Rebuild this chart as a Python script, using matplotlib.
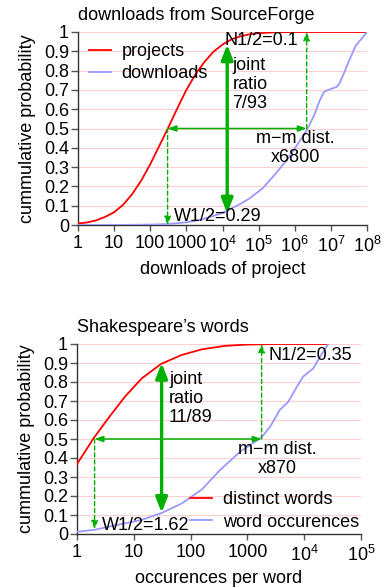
import matplotlib
matplotlib.use("Agg")
import matplotlib.pyplot as plt
from matplotlib.ticker import FixedLocator, NullLocator

plt.rcParams['font.family'] = ['Liberation Sans', 'DejaVu Sans']
plt.rcParams['mathtext.fontset'] = 'custom'
plt.rcParams['mathtext.rm'] = 'Liberation Sans'
plt.rcParams['mathtext.it'] = 'Liberation Sans:italic'
plt.rcParams['mathtext.bf'] = 'Liberation Sans:bold'

# ---- top panel data (log10 of downloads) ----
sf_proj_logx = [0, 0.25, 0.5, 0.75, 1.0, 1.25, 1.5, 1.75, 2.0, 2.25, 2.5, 2.75, 3.0, 3.25, 3.5,
                3.75, 4.0, 4.25, 4.5, 4.75, 5.0, 5.5, 6.0, 7.0, 8.0]
sf_proj_y = [0.008, 0.013, 0.024, 0.042, 0.066, 0.105, 0.16, 0.23, 0.315, 0.41, 0.505, 0.605, 0.70,
             0.78, 0.845, 0.898, 0.935, 0.962, 0.978, 0.988, 0.994, 0.999, 1.0, 1.0, 1.0]
sf_dl_logx = [0, 1.0, 2.0, 2.5, 3.0, 3.25, 3.5, 3.75, 4.0, 4.19, 4.5, 4.75, 5.11, 5.48, 5.85, 6.12,
              6.33, 6.54, 6.68, 6.81, 7.0, 7.15, 7.23, 7.37, 7.5, 7.69, 7.85, 8.0]
sf_dl_y = [0.0, 0.0, 0.002, 0.005, 0.014, 0.022, 0.033, 0.047, 0.063, 0.08, 0.11, 0.138, 0.19, 0.268,
           0.354, 0.43, 0.49, 0.57, 0.64, 0.69, 0.705, 0.715, 0.73, 0.79, 0.85, 0.93, 0.965, 1.0]
sf_xticks = [1, 10, 100, 1000, 1e4, 1e5, 1e6, 1e7, 1e8]
sf_xticklabels = ['1', '10', '100', '1000', '10$^4$', '10$^5$', '10$^6$', '10$^7$', '10$^8$']
sf_joint_logx, sf_joint_y = 4.13, (0.935, 0.06)
sf_med_proj, sf_med_dl = 2.48, 6.33

# ---- bottom panel data (log10 of occurences) ----
sh_words_logx = [0, 0.29, 0.55, 0.845, 1.14, 1.48, 1.84, 2.2, 2.6, 3.0, 3.5, 4.0, 4.42]
sh_words_y = [0.368, 0.503, 0.609, 0.723, 0.819, 0.895, 0.942, 0.972, 0.99, 0.997, 1.0, 1.0, 1.0]
sh_occ_logx = [0, 0.31, 0.55, 1.14, 1.5, 1.84, 2.2, 2.52, 2.87, 3.25, 3.4, 3.57, 3.72, 3.87, 3.98,
               4.16, 4.28, 4.42]
sh_occ_y = [0.012, 0.022, 0.038, 0.074, 0.112, 0.16, 0.235, 0.337, 0.433, 0.509, 0.565, 0.653, 0.696,
            0.775, 0.828, 0.872, 0.933, 1.0]
sh_xticks = [1, 10, 100, 1000, 1e4, 1e5]
sh_xticklabels = ['1', '10', '100', '1000', '10$^4$', '10$^5$']
sh_joint_logx, sh_joint_y = 1.49, (0.9, 0.112)
sh_med_words, sh_med_occ = 0.31, 3.25

yticks = [0, 0.1, 0.2, 0.3, 0.4, 0.5, 0.6, 0.7, 0.8, 0.9, 1]
yticklabels = ['0', '0.1', '0.2', '0.3', '0.4', '0.5', '0.6', '0.7', '0.8', '0.9', '1']

GREEN = '#00b000'
RED = '#ff0000'
BLUE = '#9999ff'
FS = 13

fig = plt.figure(figsize=(3.84, 5.88), dpi=100)
W, H = 384, 588
ax1 = fig.add_axes([78 / W, 1 - 225 / H, (367 - 78) / W, (225 - 32) / H])
ax2 = fig.add_axes([77 / W, 1 - 534 / H, (361 - 77) / W, (534 - 344) / H])


def style(ax, xmax, xticks, xlabels):
    ax.set_xscale('log')
    ax.set_xlim(1, xmax)
    ax.set_ylim(0, 1)
    ax.xaxis.set_major_locator(FixedLocator(xticks))
    ax.xaxis.set_minor_locator(NullLocator())
    ax.set_xticks(xticks)
    ax.set_xticklabels(xlabels, fontsize=FS)
    ax.set_yticks(yticks)
    ax.set_yticklabels(yticklabels, fontsize=FS)
    for s in ['top', 'right']:
        ax.spines[s].set_visible(False)
    for s in ['left', 'bottom']:
        ax.spines[s].set_color('#333333')
        ax.spines[s].set_linewidth(1.0)
    ax.tick_params(axis='y', direction='out', length=5, width=1, color='#555555', pad=1.5)
    ax.tick_params(axis='x', direction='out', length=4.5, width=1, color='#555555', pad=3)
    for y in yticks[1:]:
        ax.axhline(y, color='#ffd0d0', lw=0.8, zorder=0)
    ax.set_ylabel('cummulative probability', fontsize=FS, labelpad=6)


def arrows(ax, xj, yj, xm1, xm2, xd_down, yd_down, xd_up):
    ax.annotate('', xy=(xj, yj[1]), xytext=(xj, yj[0]),
                arrowprops=dict(arrowstyle='<|-|>,head_length=0.9,head_width=0.35', color=GREEN, lw=2.4,
                                shrinkA=0, shrinkB=0))
    ax.annotate('', xy=(xm2, 0.5), xytext=(xm1, 0.5),
                arrowprops=dict(arrowstyle='<|-|>,head_length=0.5,head_width=0.18', color=GREEN, lw=1.1,
                                shrinkA=0, shrinkB=0))
    ax.annotate('', xy=(xd_down, yd_down), xytext=(xd_down, 0.5),
                arrowprops=dict(arrowstyle='-|>,head_length=0.5,head_width=0.2', color=GREEN, lw=1.0,
                                ls=(0, (3, 2)), shrinkA=0, shrinkB=0))
    ax.annotate('', xy=(xd_up, 1.0), xytext=(xd_up, 0.5),
                arrowprops=dict(arrowstyle='-|>,head_length=0.5,head_width=0.2', color=GREEN, lw=1.0,
                                ls=(0, (3, 2)), shrinkA=0, shrinkB=0))


# ---------- top ----------
ax1.plot([10 ** v for v in sf_proj_logx], sf_proj_y, color=RED, lw=1.3, label='projects', zorder=3)
ax1.plot([10 ** v for v in sf_dl_logx], sf_dl_y, color=BLUE, lw=1.3, label='downloads', zorder=3)
style(ax1, 1e8, sf_xticks, sf_xticklabels)
ax1.set_xlabel('downloads of project', fontsize=FS, labelpad=4)
ax1.set_title('downloads from SourceForge', fontsize=FS, loc='left', pad=9)
arrows(ax1, 10 ** sf_joint_logx, sf_joint_y, 10 ** sf_med_proj, 10 ** sf_med_dl,
       10 ** sf_med_proj, 0.0, 10 ** sf_med_dl)
ax1.text(10 ** 4.05, 0.955, 'N1/2=0.1', fontsize=FS, va='center', ha='left', zorder=5)
ax1.text(10 ** 4.28, 0.87, 'joint\nratio\n7/93', fontsize=FS, va='top', ha='left', linespacing=1.15)
ax1.text(10 ** 6.01, 0.40, 'm\u2212m dist.\nx6800', fontsize=FS, va='center', ha='center', linespacing=1.15)
ax1.text(10 ** 2.66, 0.043, 'W1/2=0.29', fontsize=FS, va='center', ha='left')
ax1.legend(loc='upper left', frameon=False, fontsize=FS, handlelength=1.2, borderaxespad=0.2,
           handletextpad=0.6, labelspacing=0.3, bbox_to_anchor=(0.0, 1.0))

# ---------- bottom ----------
ax2.plot([10 ** v for v in sh_words_logx], sh_words_y, color=RED, lw=1.3, label='distinct words', zorder=3)
ax2.plot([10 ** v for v in sh_occ_logx], sh_occ_y, color=BLUE, lw=1.3, label='word occurences', zorder=3)
style(ax2, 1e5, sh_xticks, sh_xticklabels)
ax2.set_xlabel('occurences per word', fontsize=FS, labelpad=4)
ax2.set_title("Shakespeare\u2019s words", fontsize=FS, loc='left', pad=9)
arrows(ax2, 10 ** sh_joint_logx, sh_joint_y, 10 ** sh_med_words, 10 ** sh_med_occ,
       10 ** sh_med_words, 0.025, 10 ** sh_med_occ)
ax2.text(10 ** 3.37, 0.94, 'N1/2=0.35', fontsize=FS, va='center', ha='left', zorder=5)
ax2.text(10 ** 1.62, 0.86, 'joint\nratio\n11/89', fontsize=FS, va='top', ha='left', linespacing=1.15)
ax2.text(10 ** 3.53, 0.395, 'm\u2212m dist.\nx870', fontsize=FS, va='center', ha='center', linespacing=1.15)
ax2.text(10 ** 0.435, 0.047, 'W1/2=1.62', fontsize=FS, va='center', ha='left')
ax2.legend(loc='lower right', frameon=False, fontsize=FS, handlelength=1.2, borderaxespad=0.2,
           handletextpad=0.6, labelspacing=0.3, bbox_to_anchor=(1.03, -0.04))

fig.savefig('out.png', dpi=100)
